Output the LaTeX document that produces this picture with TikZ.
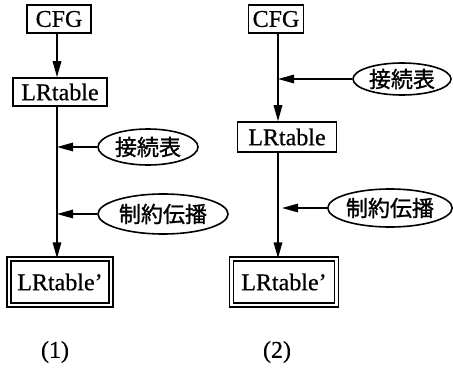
\documentclass[tikz,border=0pt]{standalone}
\usepackage{fontspec}
\setmainfont[FakeBold=0.6]{Liberation Serif}
\newfontfamily\jp[FakeBold=1.2]{Noto Sans CJK JP}
\usetikzlibrary{arrows.meta,shapes.geometric,calc}
\begin{document}
\begin{tikzpicture}[x=1pt,y=-1pt,
  every node/.style={font=\fontsize{24}{28}\selectfont},
  box/.style={draw,line width=1.6pt,rectangle,inner sep=0pt},
  dbox/.style={draw,line width=1.4pt,double,double distance=2.6pt,rectangle,inner sep=0pt},
  oval/.style={draw,line width=1.6pt,ellipse,inner sep=0pt,font=\jp\fontsize{22}{24}\selectfont},
  arr/.style={line width=1.6pt,-{Triangle[length=16pt,width=8.5pt]}},
  ln/.style={line width=1.6pt}]
\useasboundingbox (0,0) rectangle (453,372);
% left diagram
\coordinate (v1) at (57,0);
\node[box,minimum width=64pt,minimum height=28pt] (cfg1) at (59,19) {CFG};
\node[box,minimum width=94pt,minimum height=28pt] (lr1) at (60,92) {LRtable};
\node[dbox,minimum width=102pt,minimum height=46pt] (lrp1) at (60,282) {LRtable'};
\node[oval,minimum width=100pt,minimum height=36pt] (e1) at (148,147) {接続表};
\node[oval,minimum width=130pt,minimum height=40pt] (e2) at (163,214) {制約伝播};
\draw[arr] (cfg1.south -| v1) -- (lr1.north -| v1);
\draw[arr] (lr1.south -| v1) -- (lrp1.north -| v1);
\draw[arr] (e1.west) -- (e1.west -| v1);
\draw[arr] (e2.west) -- (e2.west -| v1);
% right diagram
\coordinate (v2) at (278,0);
\node[box,minimum width=55pt,minimum height=28pt] (cfg2) at (276,19) {CFG};
\node[box,minimum width=99pt,minimum height=30pt] (lr2) at (287,137) {LRtable};
\node[dbox,minimum width=105pt,minimum height=46pt] (lrp2) at (284,282) {LRtable'};
\node[oval,minimum width=98pt,minimum height=32pt] (e3) at (402,79) {接続表};
\node[oval,minimum width=123pt,minimum height=38pt] (e4) at (390,208) {制約伝播};
\draw[arr] (cfg2.south -| v2) -- (lr2.north -| v2);
\draw[arr] (lr2.south -| v2) -- (lrp2.north -| v2);
\draw[arr] (e3.west) -- (e3.west -| v2);
\draw[arr,shorten >=4pt] (e4.west) -- (e4.west -| v2);
% labels
\node (l1) at (55,352) {(1)};
\node (l2) at (277,352) {(2)};
\end{tikzpicture}
\end{document}
